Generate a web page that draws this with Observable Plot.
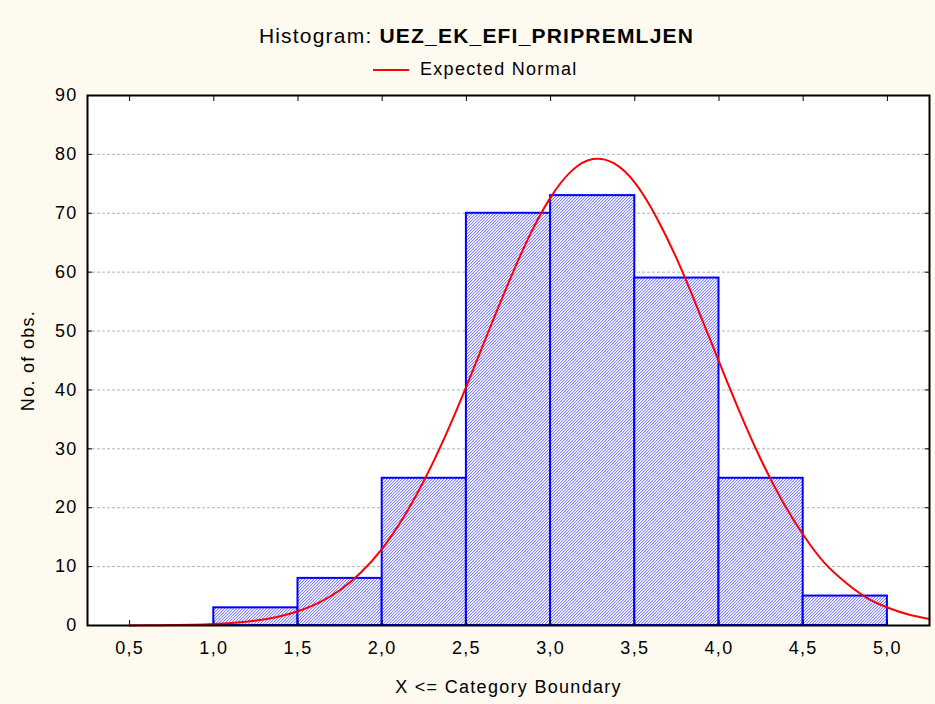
<!DOCTYPE html>
<html><head><meta charset="utf-8">
<script src="https://cdn.jsdelivr.net/npm/d3@7"></script>
<script src="https://cdn.jsdelivr.net/npm/@observablehq/plot@0.6"></script>
<style>
body{margin:0;background:#FFFAF0;font-family:"Liberation Sans",Arial,sans-serif;color:#000;}
#wrap{position:relative;width:935px;height:704px;overflow:hidden;}
#title{position:absolute;left:9px;width:935px;top:24px;text-align:center;font-size:21px;line-height:24px;letter-spacing:1.2px;white-space:nowrap;}
#legend{position:absolute;left:373px;top:59px;display:flex;align-items:center;font-size:18px;line-height:21px;letter-spacing:1.3px;white-space:nowrap;}
#legend svg{display:block;}
#chart{position:absolute;left:0;top:83px;}
</style></head>
<body>
<div id="wrap">
  <div id="title">Histogram: <b>UEZ_EK_EFI_PRIPREMLJEN</b></div>
  <div id="legend"><svg width="36" height="4"><line x1="0" x2="36" y1="2" y2="2" stroke="#ff0000" stroke-width="2"/></svg><span style="margin-left:11px">Expected Normal</span></div>
  <div id="chart"></div>
</div>
<script>
const binStart = [1.0, 1.5, 2.0, 2.5, 3.0, 3.5, 4.0, 4.5];
const binEnd   = [1.5, 2.0, 2.5, 3.0, 3.5, 4.0, 4.5, 5.0];
const counts   = [3, 8, 25, 70, 73, 59, 25, 5];
const normalX  = [0.5, 0.625, 0.75, 0.875, 1.0, 1.125, 1.25, 1.375, 1.5, 1.625, 1.75, 1.875, 2.0, 2.125, 2.25, 2.375, 2.5, 2.625, 2.75, 2.875, 3.0, 3.125, 3.25, 3.375, 3.5, 3.625, 3.75, 3.875, 4.0, 4.125, 4.25, 4.375, 4.5, 4.625, 4.75, 4.875, 5.0, 5.125, 5.25];
const normalY  = [0.02, 0.03, 0.07, 0.14, 0.26, 0.48, 0.85, 1.46, 2.43, 3.89, 6.02, 9.03, 13.07, 18.3, 24.7, 32.2, 40.6, 49.5, 58.2, 66.2, 72.7, 77.2, 79.2, 78.5, 75.2, 69.5, 62.2, 53.7, 44.8, 36.1, 28.1, 21.2, 15.4, 10.67, 7.35, 4.74, 3.06, 1.87, 1.11];
const xTicks   = [0.5, 1.0, 1.5, 2.0, 2.5, 3.0, 3.5, 4.0, 4.5, 5.0];
const xTickLabels = ["0,5", "1,0", "1,5", "2,0", "2,5", "3,0", "3,5", "4,0", "4,5", "5,0"];
const yTicks   = [0, 10, 20, 30, 40, 50, 60, 70, 80, 90];
const gridTicks = [10, 20, 30, 40, 50, 60, 70, 80];

const bars = binStart.map((s, i) => ({x1: s, x2: binEnd[i], count: counts[i]}));
const curve = normalX.map((x, i) => ({x, y: normalY[i]}));
const xLabel = (d) => xTickLabels[xTicks.indexOf(d)] ?? "";

function hatchDefs() {
  const ns = "http://www.w3.org/2000/svg";
  const defs = document.createElementNS(ns, "defs");
  const px = (x, y, c) => `<rect x="${x}" y="${y}" width="1" height="1" fill="${c}"/>`;
  defs.innerHTML = '<pattern id="hatch" patternUnits="userSpaceOnUse" width="3" height="3" shape-rendering="crispEdges">' +
    '<rect width="3" height="3" fill="#ffffff"/>' +
    px(0, 2, "#8282ff") + px(1, 1, "#8282ff") + px(2, 0, "#8282ff") +
    px(0, 0, "#d6d6ff") + px(1, 2, "#d6d6ff") + px(2, 1, "#d6d6ff") +
    '</pattern>';
  return defs;
}

const chart = Plot.plot({
  width: 935, height: 621,
  marginTop: 12, marginBottom: 79, marginLeft: 87, marginRight: 6,
  style: {background: "transparent", fontFamily: "'Liberation Sans', Arial, sans-serif", fontSize: "18px", color: "#000", letterSpacing: "1.3px"},
  x: {domain: [0.25, 5.25]},
  y: {domain: [0, 90]},
  marks: [
    hatchDefs,
    Plot.frame({fill: "white", stroke: null}),
    Plot.gridY(gridTicks, {stroke: "#b4b4b4", strokeOpacity: 1, strokeDasharray: "3,2"}),
    Plot.rectY(bars, {x1: "x1", x2: "x2", y: "count", fill: "url(#hatch)", stroke: "#0000ff", strokeWidth: 2}),
    Plot.line(curve, {x: "x", y: "y", stroke: "#ff0000", strokeWidth: 2, curve: "natural"}),
    Plot.axisX({ticks: xTicks, anchor: "bottom", tickSize: 0, tickPadding: 16, tickFormat: xLabel,
      label: "X <= Category Boundary", labelAnchor: "center", labelArrow: "none", labelOffset: 67}),
    Plot.axisX({ticks: xTicks, anchor: "bottom", tickSize: -5, tickFormat: () => "", label: null}),
    Plot.axisX({ticks: xTicks, anchor: "top", tickSize: -5, tickFormat: () => "", label: null}),
    Plot.axisY({ticks: yTicks, anchor: "left", tickSize: 0, tickPadding: 10,
      label: "No. of obs.", labelAnchor: "center", labelArrow: "none", labelOffset: 66}),
    Plot.axisY({ticks: yTicks, anchor: "left", tickSize: -5, tickFormat: () => "", label: null}),
    Plot.axisY({ticks: yTicks, anchor: "right", tickSize: -5, tickFormat: () => "", label: null}),
    Plot.frame({stroke: "#000", strokeWidth: 2})
  ]
});
document.getElementById("chart").appendChild(chart);
</script>
</body></html>
